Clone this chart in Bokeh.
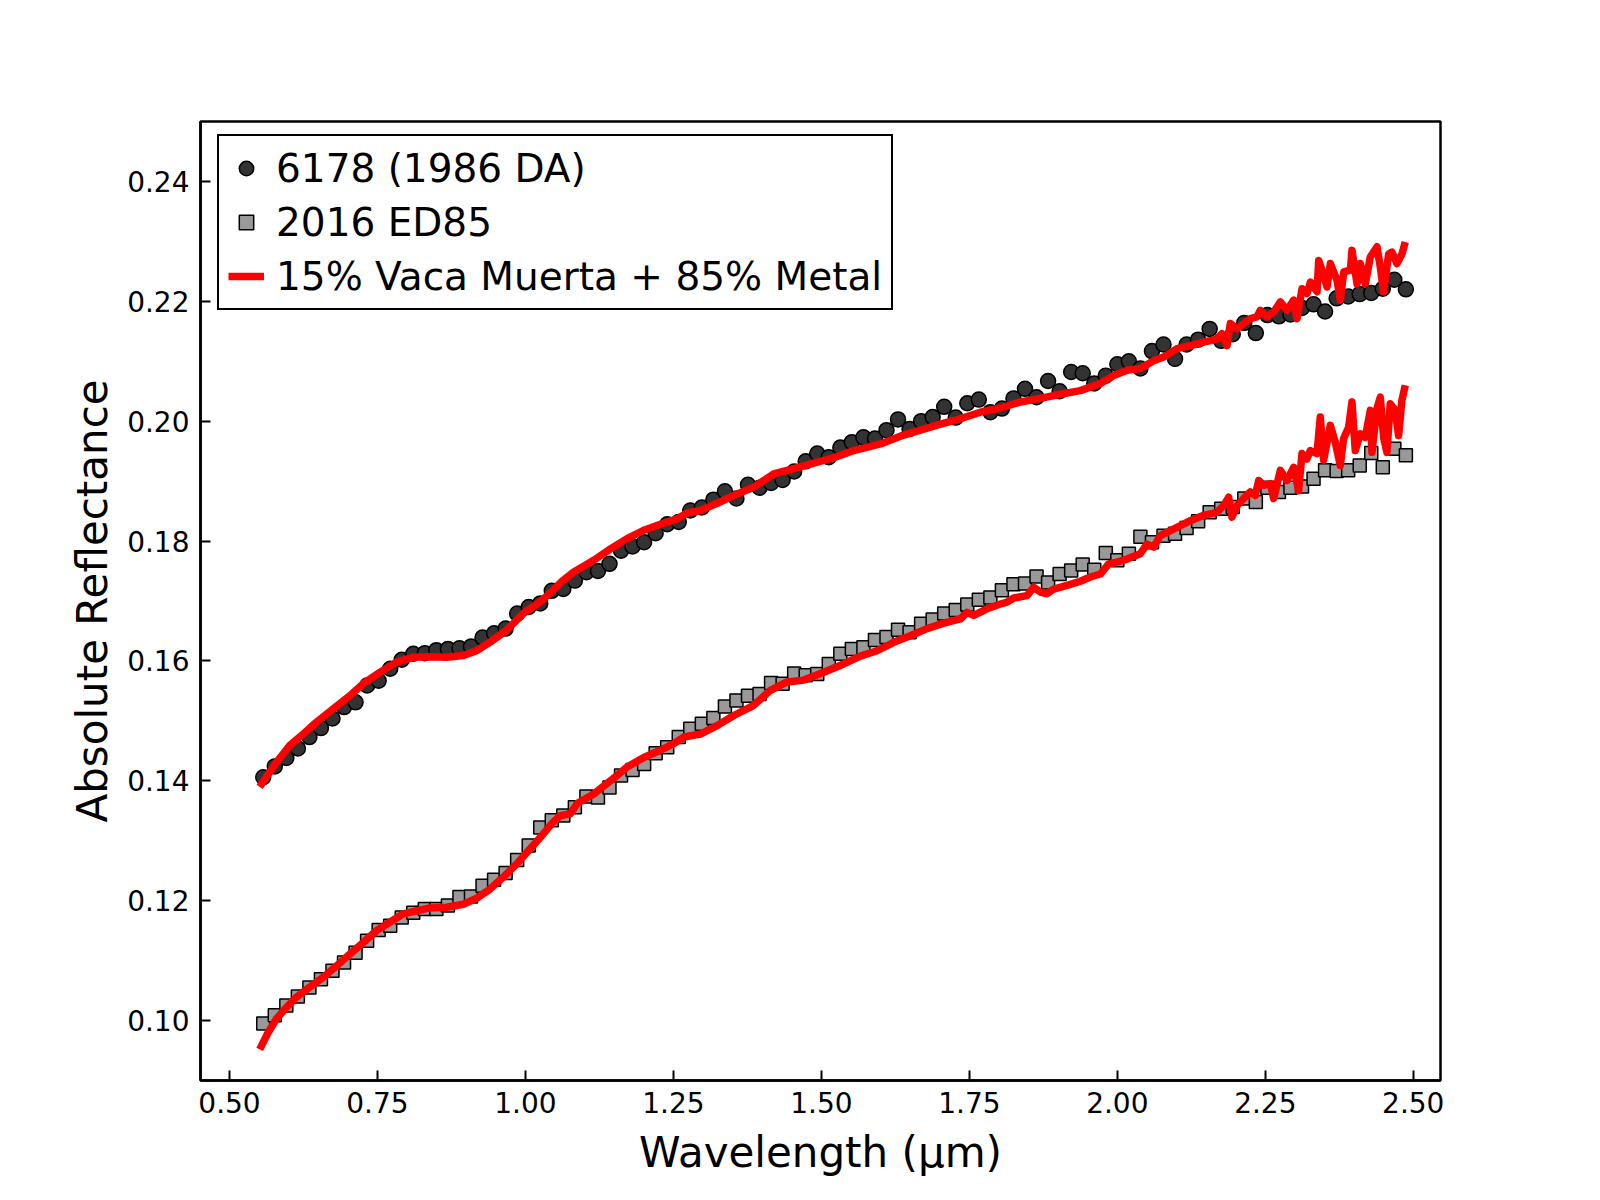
import numpy as np
from bokeh.plotting import figure
from bokeh.models import (Range1d, FixedTicker, NumeralTickFormatter, Legend,
                          LegendItem)
from bokeh.embed import file_html
from bokeh.resources import INLINE

# ---------------- data ----------------
wavelength = np.round(0.557 + 0.0195 * np.arange(100), 4)

refl_6178 = [
    0.1406, 0.1424, 0.1438, 0.1454, 0.1473, 0.1488, 0.1504, 0.1523, 0.1531, 0.1559,
    0.1567, 0.1587, 0.1602, 0.1612, 0.1613, 0.1618, 0.1620, 0.1621, 0.1624, 0.1639,
    0.1646, 0.1654, 0.1679, 0.1690, 0.1696, 0.1717, 0.1720, 0.1734, 0.1748, 0.1750,
    0.1762, 0.1784, 0.1791, 0.1798, 0.1813, 0.1828, 0.1832, 0.1851, 0.1856, 0.1869,
    0.1883, 0.1871, 0.1894, 0.1889, 0.1897, 0.1902, 0.1916, 0.1933, 0.1946, 0.1940,
    0.1956, 0.1965, 0.1973, 0.1971, 0.1985, 0.2003, 0.1987, 0.2000, 0.2007, 0.2024,
    0.2006, 0.2030, 0.2036, 0.2015, 0.2021, 0.2038, 0.2054, 0.2040, 0.2067, 0.2050,
    0.2082, 0.2080, 0.2063, 0.2076, 0.2095, 0.2100, 0.2088, 0.2117, 0.2128, 0.2104,
    0.2128, 0.2136, 0.2154, 0.2134, 0.2145, 0.2164, 0.2147, 0.2177, 0.2175, 0.2178,
    0.2189, 0.2195, 0.2183, 0.2205, 0.2208, 0.2212, 0.2214, 0.2221, 0.2236, 0.2220,
]

refl_ed85 = [
    0.0995, 0.1009, 0.1025, 0.1040, 0.1055, 0.1069, 0.1083, 0.1097, 0.1113, 0.1133,
    0.1151, 0.1158, 0.1172, 0.1180, 0.1186, 0.1186, 0.1192, 0.1206, 0.1207, 0.1225,
    0.1235, 0.1246, 0.1268, 0.1292, 0.1322, 0.1334, 0.1342, 0.1356, 0.1374, 0.1372,
    0.1389, 0.1409, 0.1418, 0.1428, 0.1446, 0.1456, 0.1473, 0.1487, 0.1495, 0.1505,
    0.1524, 0.1534, 0.1542, 0.1545, 0.1563, 0.1562, 0.1579, 0.1576, 0.1578, 0.1595,
    0.1612, 0.1620, 0.1623, 0.1635, 0.1640, 0.1652, 0.1648, 0.1662, 0.1669, 0.1679,
    0.1685, 0.1694, 0.1702, 0.1706, 0.1718, 0.1728, 0.1729, 0.1741, 0.1731, 0.1745,
    0.1751, 0.1761, 0.1752, 0.1780, 0.1768, 0.1779, 0.1807, 0.1798, 0.1809, 0.1812,
    0.1822, 0.1833, 0.1848, 0.1854, 0.1857, 0.1871, 0.1865, 0.1889, 0.1882, 0.1889,
    0.1891, 0.1904, 0.1918, 0.1917, 0.1918, 0.1926, 0.1947, 0.1923, 0.1954, 0.1943,
]

model_up_x = [
    0.551, 0.5794, 0.602, 0.6244, 0.647, 0.675, 0.7033, 0.7258, 0.754, 0.782,
    0.810, 0.8384, 0.8666, 0.895, 0.9172, 0.9397, 0.9679, 0.996, 1.0242, 1.0468,
    1.062, 1.081, 1.1154, 1.1436, 1.1717, 1.1999, 1.2280, 1.2562, 1.2731, 1.2956,
    1.3238, 1.352, 1.3857, 1.4195, 1.4533, 1.487, 1.5208, 1.5546, 1.5997, 1.6334,
    1.6672, 1.7010, 1.7348, 1.7686, 1.8024, 1.8361, 1.8699, 1.9037, 1.9375, 1.9713,
    1.9938, 2.0163, 2.0389, 2.0614, 2.0783, 2.1008, 2.1233, 2.1458, 2.1683, 2.1768,
    2.1853, 2.1909, 2.2022, 2.2135, 2.2247, 2.236, 2.2416, 2.2529, 2.2642, 2.2755,
    2.2867, 2.298, 2.3036, 2.3121, 2.3205, 2.3262, 2.3374, 2.3402, 2.3487, 2.3543,
    2.36, 2.3712, 2.3768, 2.3825, 2.3937, 2.3965, 2.405, 2.4106, 2.419, 2.4274,
    2.4387, 2.4443, 2.4499, 2.4584, 2.464, 2.4724, 2.4809, 2.4865,
]
model_up_y = [
    0.1390, 0.1431, 0.1459, 0.1478, 0.1498, 0.1520, 0.1542, 0.1562, 0.1581, 0.1598,
    0.1606, 0.1607, 0.1606, 0.1609, 0.1617, 0.1631, 0.1651, 0.1679, 0.1698, 0.1718,
    0.1733, 0.1748, 0.1768, 0.1787, 0.1804, 0.1818, 0.1828, 0.1837, 0.1847, 0.1851,
    0.1863, 0.1876, 0.1890, 0.1912, 0.1921, 0.1930, 0.1939, 0.1951, 0.1962, 0.1975,
    0.1985, 0.1995, 0.2004, 0.2015, 0.2022, 0.2032, 0.2038, 0.2045, 0.2051, 0.2063,
    0.2076, 0.2085, 0.2088, 0.2101, 0.2107, 0.2121, 0.2126, 0.2132, 0.2137, 0.2146,
    0.2126, 0.2163, 0.2154, 0.2163, 0.2171, 0.2174, 0.2185, 0.2174, 0.2182, 0.2199,
    0.2185, 0.2202, 0.2171, 0.2221, 0.2213, 0.2232, 0.2216, 0.2268, 0.2243, 0.2224,
    0.2263, 0.2235, 0.2202, 0.2249, 0.2252, 0.2285, 0.2229, 0.2263, 0.2229, 0.2274,
    0.2291, 0.2257, 0.2216, 0.2279, 0.2282, 0.2263, 0.2279, 0.2299,
]

model_lo_x = [
    0.551, 0.5653, 0.5794, 0.5963, 0.6131, 0.6357, 0.6582, 0.6807, 0.7033, 0.7258,
    0.7483, 0.7708, 0.7934, 0.8159, 0.8384, 0.8666, 0.895, 0.9172, 0.9397, 0.9622,
    0.9848, 1.0073, 1.0298, 1.0468, 1.0591, 1.0760, 1.0873, 1.1154, 1.1436, 1.1717,
    1.1999, 1.228, 1.2506, 1.2675, 1.2956, 1.3238, 1.352, 1.3857, 1.4139, 1.4420,
    1.4702, 1.504, 1.5377, 1.5659, 1.594, 1.6222, 1.6504, 1.6785, 1.7067, 1.7348,
    1.7461, 1.7573, 1.7799, 1.8024, 1.8137, 1.8249, 1.8474, 1.8587, 1.8699, 1.8812,
    1.8925, 1.915, 1.9375, 1.9544, 1.9713, 1.9854, 1.9994, 2.0163, 2.0389, 2.0501,
    2.0614, 2.0726, 2.095, 2.1233, 2.1458, 2.1683, 2.1796, 2.188, 2.1937, 2.2022,
    2.2135, 2.2247, 2.2331, 2.2388, 2.2472, 2.2585, 2.2641, 2.2754, 2.2866, 2.2979,
    2.3063, 2.312, 2.3204, 2.326, 2.3373, 2.3429, 2.3486, 2.3598, 2.3682, 2.3767,
    2.3823, 2.3908, 2.3964, 2.402, 2.4105, 2.4189, 2.4274, 2.4302, 2.4386, 2.4443,
    2.4499, 2.4555, 2.4611, 2.4696, 2.4752, 2.4808, 2.4865,
]
model_lo_y = [
    0.0952, 0.0980, 0.1003, 0.1022, 0.1039, 0.1056, 0.1072, 0.1091, 0.1111, 0.1130,
    0.1150, 0.1164, 0.1178, 0.1183, 0.1188, 0.1189, 0.1194, 0.1204, 0.1219, 0.1239,
    0.1261, 0.1286, 0.1311, 0.1331, 0.1342, 0.1345, 0.1362, 0.1378, 0.1400, 0.1423,
    0.1439, 0.1451, 0.1462, 0.1473, 0.1478, 0.1492, 0.1509, 0.1526, 0.1551, 0.1565,
    0.1568, 0.1581, 0.1595, 0.1608, 0.1617, 0.1631, 0.1642, 0.1654, 0.1663, 0.1670,
    0.1681, 0.1676, 0.1687, 0.1695, 0.1698, 0.1705, 0.1709, 0.1723, 0.1715, 0.1712,
    0.1720, 0.1726, 0.1733, 0.1740, 0.1745, 0.1762, 0.1765, 0.1770, 0.1779, 0.1795,
    0.1790, 0.1809, 0.1820, 0.1834, 0.1843, 0.1848, 0.1859, 0.1873, 0.1840, 0.1859,
    0.1871, 0.1882, 0.1876, 0.1901, 0.1893, 0.1896, 0.1871, 0.1918, 0.1901, 0.1923,
    0.1884, 0.1946, 0.1937, 0.1951, 0.1946, 0.2007, 0.1935, 0.1993, 0.1965, 0.1926,
    0.1971, 0.1990, 0.2032, 0.1951, 0.1979, 0.1973, 0.2018, 0.1948, 0.2021, 0.2040,
    0.1973, 0.1948, 0.2029, 0.2018, 0.1976, 0.2035, 0.2060,
]

x_ticks = [0.50, 0.75, 1.00, 1.25, 1.50, 1.75, 2.00, 2.25, 2.50]
y_ticks = [0.10, 0.12, 0.14, 0.16, 0.18, 0.20, 0.22, 0.24]

label_6178 = "6178 (1986 DA)"
label_ed85 = "2016 ED85"
label_model = "15% Vaca Muerta + 85% Metal"

# ---------------- figure ----------------
FONT = "DejaVu Sans"
FRAME_W, FRAME_H = 1240, 959

p = figure(
    width=1584, height=1184,
    frame_width=FRAME_W, frame_height=FRAME_H,
    min_border_left=200, min_border_right=144,
    min_border_top=121, min_border_bottom=104,
    x_range=Range1d(0.451, 2.546), y_range=Range1d(0.09, 0.25),
    output_backend="svg", toolbar_location=None,
    background_fill_color="white", border_fill_color="white",
)
p.grid.visible = False
p.outline_line_color = "black"
p.outline_line_width = 2.5
p.outline_line_alpha = 1.0

for ax in (p.xaxis[0], p.yaxis[0]):
    ax.axis_line_width = 2.5
    ax.axis_line_color = "black"
    ax.major_tick_in = 10
    ax.major_tick_out = 0
    ax.major_tick_line_width = 2
    ax.major_tick_line_color = "black"
    ax.minor_tick_line_color = None
    ax.major_label_text_font = FONT
    ax.major_label_text_font_size = "28px"
    ax.major_label_text_color = "black"
    ax.axis_label_text_font = FONT
    ax.axis_label_text_font_size = "42px"
    ax.axis_label_text_font_style = "normal"
    ax.axis_label_text_color = "black"
    ax.formatter = NumeralTickFormatter(format="0.00")

p.xaxis[0].ticker = FixedTicker(ticks=x_ticks)
p.yaxis[0].ticker = FixedTicker(ticks=y_ticks)
p.xaxis[0].major_label_standoff = 11
p.yaxis[0].major_label_standoff = 11
p.xaxis[0].axis_label = "Wavelength (μm)"
p.yaxis[0].axis_label = "Absolute Reflectance"
p.xaxis[0].axis_label_standoff = 12
p.yaxis[0].axis_label_standoff = 7

r_circ = p.scatter(wavelength, refl_6178, marker="circle", size=15,
                   fill_color="#333333", line_color="black", line_width=1.5)
r_sq = p.scatter(wavelength, refl_ed85, marker="square", size=13,
                 fill_color="#999999", line_color="black", line_width=1.5)

r_up = p.line(model_up_x, model_up_y, line_color="#ff0000", line_width=7.5,
              line_join="round")
r_lo = p.line(model_lo_x, model_lo_y, line_color="#ff0000", line_width=7.5,
              line_join="round")

LEG_PAD, LEG_ROW, LEG_SP = 9, 46, 8
leg_h = 2 * LEG_PAD + 3 * LEG_ROW + 2 * LEG_SP
legend = Legend(
    items=[LegendItem(label=label_6178, renderers=[r_circ]),
           LegendItem(label=label_ed85, renderers=[r_sq]),
           LegendItem(label=label_model, renderers=[r_up])],
    location=(17, FRAME_H - 17 - leg_h),
    label_text_font=FONT, label_text_font_size="39px", label_text_color="black",
    border_line_color="black", border_line_width=2, border_line_alpha=1.0,
    background_fill_color="white", background_fill_alpha=1.0,
    padding=LEG_PAD, spacing=LEG_SP, glyph_height=LEG_ROW, glyph_width=36,
    label_height=LEG_ROW, label_standoff=12,
)
p.add_layout(legend)

open("out.html", "w").write(file_html(p, INLINE))
